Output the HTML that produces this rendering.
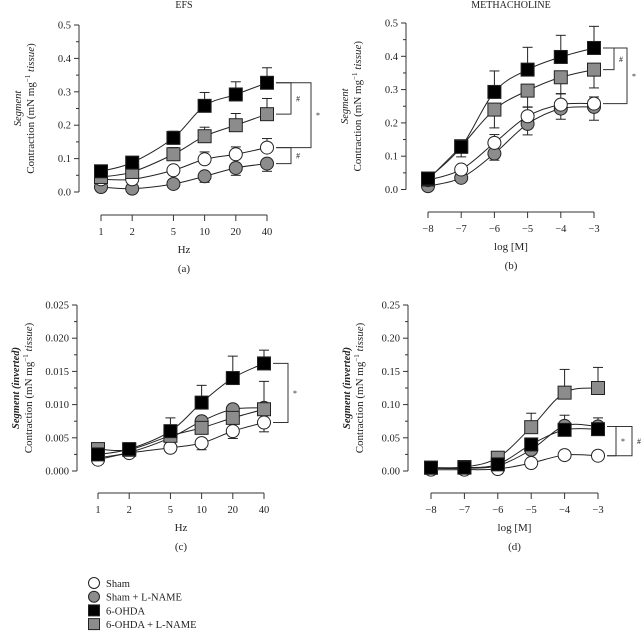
<!DOCTYPE html>
<html><head><meta charset="utf-8"><style>
body{margin:0;background:#fff}
svg{display:block;font-family:"Liberation Serif",serif;}
</style></head><body>
<svg id="s" width="641" height="632" viewBox="0 0 641 632"></svg>
<script>
const freqs=[1,2,5,10,20,40];
const xTickA=["1","2","5","10","20","40"];
const logM=[-8,-7,-6,-5,-4,-3];
const xTickB=["−8","−7","−6","−5","−4","−3"];
const seriesNames=["Sham","Sham + L-NAME","6-OHDA","6-OHDA + L-NAME"];
// panel a
const aSham=[0.038,0.038,0.065,0.098,0.113,0.133];
const aShamL=[0.015,0.010,0.024,0.047,0.072,0.085];
const aOH=[0.062,0.088,0.162,0.258,0.292,0.327];
const aOHL=[0.045,0.060,0.113,0.167,0.200,0.233];
const aShamE=[0,0,0,0.022,0.022,0.027];
const aShamLE=[0,0,0,-0.018,-0.022,-0.023];
const aOHE=[0,0,0.02,0.04,0.038,0.045];
const aOHLE=[0,0,0.02,0.027,0.035,0.047];
// panel b
const bSham=[0.028,0.060,0.140,0.220,0.255,0.258];
const bShamL=[0.010,0.035,0.108,0.197,0.243,0.248];
const bOH=[0.033,0.128,0.293,0.360,0.398,0.425];
const bOHL=[0.030,0.130,0.240,0.297,0.337,0.360];
const bShamE=[0,0,0.025,0.028,0.033,0.02];
const bShamLE=[0,0,-0.02,-0.033,-0.032,-0.04];
const bOHE=[0,-0.03,0.063,0.067,0.065,0.065];
const bOHLE=[0,0,-0.055,-0.05,-0.05,-0.055];
// panel c
const cSham=[0.0017,0.0027,0.0035,0.0042,0.0060,0.0073];
const cShamL=[0.0020,0.0028,0.0050,0.0075,0.0093,0.0095];
const cOH=[0.0025,0.0033,0.0060,0.0103,0.0140,0.0162];
const cOHL=[0.0033,0.0032,0.0053,0.0065,0.0080,0.0093];
const cShamE=[0,0,0,-0.001,-0.0011,-0.0014];
const cShamLE=[0,0,0,0,0,0];
const cOHE=[0,0,0.002,0.0026,0.0033,0.002];
const cOHLE=[0,0,0,0,0,0.0042];
// panel d
const dSham=[0.002,0.002,0.003,0.012,0.024,0.023];
const dShamL=[0.004,0.004,0.008,0.032,0.068,0.067];
const dOH=[0.005,0.005,0.010,0.040,0.062,0.063];
const dOHL=[0.005,0.006,0.020,0.066,0.118,0.125];
const dShamE=[0,0,0,0,0,0];
const dShamLE=[0,0,0,0,0.016,0.013];
const dOHE=[0,0,0,0,0,0];
const dOHLE=[0,0,0,0.021,0.035,0.031];
const yTicksA=["0.0","0.1","0.2","0.3","0.4","0.5"];
const yTicksC=["0.000","0.005","0.010","0.015","0.020","0.025"];
const yTicksD=["0.00","0.05","0.10","0.15","0.20","0.25"];

const S=document.getElementById('s');const NS="http://www.w3.org/2000/svg";
function el(t,a,p){const e=document.createElementNS(NS,t);for(const k in a)e.setAttribute(k,a[k]);(p||S).appendChild(e);return e;}
function txt(x,y,s,sz,anc,p,extra){const e=el('text',Object.assign({x:x,y:y,'font-size':sz,'text-anchor':anc||'middle',fill:'#222'},extra||{}),p);e.textContent=s;return e;}
const styles=[{shape:'c',fill:'#fff'},{shape:'c',fill:'#8c8c8c'},{shape:'s',fill:'#000'},{shape:'s',fill:'#8c8c8c'}];

function panel(o){
  const g=el('g',{});
  
  
  const ymax=o.ymax;
  const Y=v=>o.y0-(v/ymax)*(o.y0-o.y1);
  const X=o.xf;
  const ya=el('line',{x1:o.ax,y1:o.y1,x2:o.ax,y2:o.y0,stroke:'#333','stroke-width':1},g);
  
  for(let i=0;i<=10;i++){const v=ymax*i/10;const yy=Y(v);el('line',{x1:o.ax-(i%2?3:5),x2:o.ax,y1:yy,y2:yy,stroke:'#333'},g);}
  o.yt.forEach((t,i)=>{const l=txt(o.ax-8,Y(ymax*i/5)+3.5,t,10.5,'end',g);});
  const xa=el('line',{x1:X(o.xv[0]),x2:X(o.xv[5]),y1:o.xay,y2:o.xay,stroke:'#333'},g);
  
  o.xv.forEach((v,i)=>{el('line',{x1:X(v),x2:X(v),y1:o.xay,y2:o.xay+6,stroke:'#333'},g);const l=txt(X(v),o.xay+20,o.xt[i],10.5,'middle',g);});
  const xt=txt((X(o.xv[0])+X(o.xv[5]))/2,o.xay+38,o.xlabel,11,'middle',g);
  const pl=txt((X(o.xv[0])+X(o.xv[5]))/2,o.xay+57,o.plabel,11,'middle',g);
  const cy=(o.y0+o.y1)/2;
  const yt=el('text',{x:0,y:0,'font-size':11,'text-anchor':'middle',fill:'#222',transform:`translate(${o.ax-45},${cy}) rotate(-90)`},g);
  yt.innerHTML='Contraction (mN mg<tspan dy="-4" font-size="7">−1</tspan><tspan dy="4"> </tspan><tspan font-style="italic">tissue</tspan>)';
  
  const yt2=el('text',{x:0,y:0,'font-size':10.5,'text-anchor':'middle','font-style':'italic','font-weight':o.bold?'bold':'normal',fill:'#222',transform:`translate(${o.ax-58},${cy}) rotate(-90)`},g);
  yt2.textContent=o.seg;
  if(o.title){const t=txt((X(o.xv[0])+X(o.xv[5]))/2,o.ty,o.title,10,'middle',g);}
  const order=[1,0,3,2];
  order.forEach(si=>{
    const d=o.data[si],er=o.err[si];
    const pts=d.map((v,i)=>[X(o.xv[i]),Y(v)]);
    let p='M'+pts[0].join(',');
    for(let i=0;i<pts.length-1;i++){const p0=pts[i-1]||pts[i],p1=pts[i],p2=pts[i+1],p3=pts[i+2]||p2;
      p+=` C${p1[0]+(p2[0]-p0[0])/6},${p1[1]+(p2[1]-p0[1])/6} ${p2[0]-(p3[0]-p1[0])/6},${p2[1]-(p3[1]-p1[1])/6} ${p2[0]},${p2[1]}`;}
    const ln=el('path',{d:p,fill:'none',stroke:'#222','stroke-width':1},g);
    
    d.forEach((v,i)=>{if(er[i]){const x=X(o.xv[i]);const ye=Y(v+er[i]);el('line',{x1:x,x2:x,y1:Y(v),y2:ye,stroke:'#222'},g);el('line',{x1:x-5,x2:x+5,y1:ye,y2:ye,stroke:'#222'},g);}});
  });
  order.forEach(si=>{
    const st=styles[si];
    o.data[si].forEach((v,i)=>{const x=X(o.xv[i]),y=Y(v);let m;
      if(st.shape==='c')m=el('circle',{cx:x,cy:y,r:6.5,fill:st.fill,stroke:'#222','stroke-width':1},g);
      else m=el('rect',{x:x-6.5,y:y-6.5,width:13,height:13,fill:st.fill,stroke:'#222','stroke-width':1},g);
      });
  });
  (o.br||[]).forEach(b=>{const ya=Y(o.data[b[0]][5]),yb=Y(o.data[b[1]][5]);const x0=X(o.xv[5])+9;
    el('path',{d:`M${x0},${ya}H${b[2]}V${yb}H${x0}`,fill:'none',stroke:'#333'},g);
    const t=txt(b[2]+7,(ya+yb)/2+3,b[3],8,'middle',g);});
}
const lx=(a,b)=>v=>a+(Math.log10(v))*(b-a)/Math.log10(40);
const mx=(a,b)=>v=>a+(v+8)*(b-a)/5;
panel({name:'panel-a',ax:79,y0:192,y1:25,ymax:0.5,yt:yTicksA,xf:lx(101,267),xv:freqs,xt:xTickA,xay:215,xlabel:'Hz',plabel:'(a)',seg:'Segment',title:'EFS',ty:8,
 data:[aSham,aShamL,aOH,aOHL],err:[aShamE,aShamLE,aOHE,aOHLE],br:[[2,3,291,'#'],[2,0,311,'*'],[0,1,291,'#']]});
panel({name:'panel-b',ax:406,y0:189.5,y1:23,ymax:0.5,yt:yTicksA,xf:mx(428,594),xv:logM,xt:xTickB,xay:212,xlabel:'log [M]',plabel:'(b)',seg:'Segment',title:'METHACHOLINE',ty:8,
 data:[bSham,bShamL,bOH,bOHL],err:[bShamE,bShamLE,bOHE,bOHLE],br:[[2,3,614,'#'],[2,0,627,'*']]});
panel({name:'panel-c',ax:77,y0:471,y1:305,ymax:0.025,yt:yTicksC,xf:lx(98,264),xv:freqs,xt:xTickA,xay:493,xlabel:'Hz',plabel:'(c)',seg:'Segment  (inverted)',bold:true,
 data:[cSham,cShamL,cOH,cOHL],err:[cShamE,cShamLE,cOHE,cOHLE],br:[[2,0,288,'*']]});
panel({name:'panel-d',ax:408,y0:471,y1:305,ymax:0.25,yt:yTicksD,xf:mx(431,598),xv:logM,xt:xTickB,xay:493,xlabel:'log [M]',plabel:'(d)',seg:'Segment  (inverted)',bold:true,
 data:[dSham,dShamL,dOH,dOHL],err:[dShamE,dShamLE,dOHE,dOHLE],br:[[1,0,616,'*'],[1,0,632,'#']]});
const lg=el('g',{});


seriesNames.forEach((n,i)=>{const y=583+i*13.7;const st=styles[i];
  if(st.shape==='c')el('circle',{cx:94,cy:y,r:5.5,fill:st.fill,stroke:'#222'},lg);else el('rect',{x:88.5,y:y-5.5,width:11,height:11,fill:st.fill,stroke:'#222'},lg);
  const t=txt(106,y+4,n,10.5,'start',lg);
  
  });
</script>
</body></html>
